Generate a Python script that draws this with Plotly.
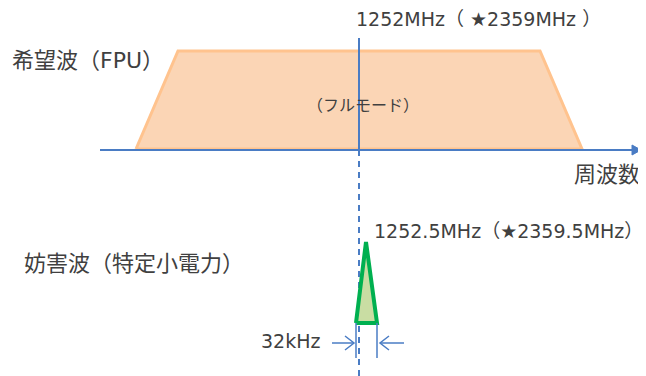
import plotly.graph_objects as go

# Diagram geometry (pixel-like units, y grows downward)
band_x = [136, 178, 540, 582, 136]          # FPU wanted-signal trapezoid
band_y = [149, 51, 51, 149, 149]
axis_x = [100, 633]                         # frequency axis
axis_y = [150, 150]
head_x = [632, 641, 632, 632]               # axis arrow head
head_y = [145, 150, 155, 145]
center_x = 359                              # 1252 MHz marker
solid_y = [38, 150]
dashed_y = [150, 376]
spike_x = [356, 366, 377, 356]              # interference (32 kHz) triangle
spike_y = [323, 242, 323, 323]
width_x = [356, 377]                        # 32 kHz bandwidth markers
width_y = [323, 358]
arrow_y = 343

labels = ["希望波（FPU）", "（フルモード）", "周波数", "1252MHz（ ★2359MHz ）",
          "妨害波（特定小電力）", "1252.5MHz（★2359.5MHz）", "32kHz"]
label_x = [10, 305, 572, 354, 22, 372, 259]
label_y = [60, 105, 174, 19, 263, 231, 341]
label_size = [22, 16, 22, 19, 22, 19, 19]

BLUE = "#4A7CC4"
TEXT = "#404040"
# the page body adds an 8px margin, so the ranges are shifted to keep pixel positions
OFF = 8

fig = go.Figure()

fig.add_trace(go.Scatter(x=band_x, y=band_y, mode="lines", fill="toself",
                         fillcolor="#FBD5B5", line=dict(color="#FFC38E", width=3)))
fig.add_trace(go.Scatter(x=axis_x, y=axis_y, mode="lines", line=dict(color=BLUE, width=2)))
fig.add_trace(go.Scatter(x=head_x, y=head_y, mode="lines", fill="toself",
                         fillcolor=BLUE, line=dict(color=BLUE, width=1)))
fig.add_trace(go.Scatter(x=[center_x, center_x], y=solid_y, mode="lines",
                         line=dict(color=BLUE, width=2)))
fig.add_trace(go.Scatter(x=[center_x, center_x], y=dashed_y, mode="lines",
                         line=dict(color=BLUE, width=2, dash="6px,5px")))
fig.add_trace(go.Scatter(x=spike_x, y=spike_y, mode="lines", fill="toself",
                         fillcolor="#C9DDA3", line=dict(color="#00B050", width=4)))
for wx in width_x:
    fig.add_trace(go.Scatter(x=[wx, wx], y=width_y, mode="lines",
                             line=dict(color=BLUE, width=1.5)))

# open chevron arrows pointing at the bandwidth edges
left_tip, right_tip = width_x[0] - 2, width_x[1] + 3
for tip, tail, back in [(left_tip, 332, left_tip - 9), (right_tip, 404, right_tip + 9)]:
    fig.add_trace(go.Scatter(x=[tail, tip, None, back, tip, back],
                             y=[arrow_y, arrow_y, None, arrow_y - 7, arrow_y, arrow_y + 7],
                             mode="lines", line=dict(color=BLUE, width=1.5)))

for t, x, y, s in zip(labels, label_x, label_y, label_size):
    fig.add_annotation(x=x, y=y, text=t, showarrow=False, xanchor="left", yanchor="middle",
                       font=dict(family="DejaVu Sans, Noto Sans CJK JP", size=s, color=TEXT))

fig.update_layout(
    width=646, height=376,
    margin=dict(l=0, r=0, t=0, b=0),
    paper_bgcolor="white", plot_bgcolor="white",
    showlegend=False,
    xaxis=dict(range=[OFF, 646 + OFF], visible=False, fixedrange=True),
    yaxis=dict(range=[376 + OFF, OFF], visible=False, fixedrange=True),
)

fig.write_html("out.html")
